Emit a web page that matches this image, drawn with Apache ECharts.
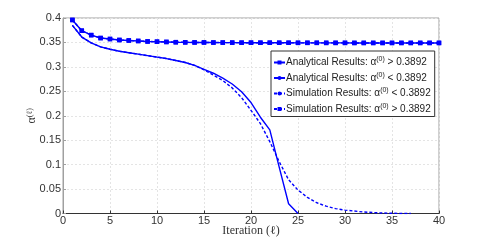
<!DOCTYPE html>
<html>
<head>
<meta charset="utf-8">
<script src="https://cdn.jsdelivr.net/npm/echarts@6/dist/echarts.min.js"></script>
<style>html,body{margin:0;padding:0;background:#fff}#c{width:485px;height:240px}</style>
</head>
<body>
<div id="c"></div>
<script>
var analyticalAbove = [[1,0.396],[2,0.374],[3,0.365],[4,0.359],[5,0.357],[6,0.355],[7,0.354],[8,0.353],[9,0.352],[10,0.3515],[11,0.351],[12,0.3505],[13,0.3502],[14,0.35],[15,0.35],[16,0.3498],[17,0.3497],[18,0.3496],[19,0.3495],[20,0.3495],[21,0.3494],[22,0.3494],[23,0.3493],[24,0.3493],[25,0.3492],[26,0.3492],[27,0.3492],[28,0.3491],[29,0.3491],[30,0.3491],[31,0.349],[32,0.349],[33,0.349],[34,0.349],[35,0.349],[36,0.349],[37,0.349],[38,0.349],[39,0.349],[40,0.349]];
var analyticalBelow = [[1,0.385],[2,0.361],[3,0.349],[4,0.341],[5,0.336],[6,0.332],[7,0.329],[8,0.326],[9,0.323],[10,0.320],[11,0.317],[12,0.313],[13,0.309],[14,0.303],[15,0.295],[16,0.287],[17,0.277],[18,0.265],[19,0.249],[20,0.227],[21,0.197],[22,0.171],[23,0.095],[24,0.02],[25,0]];
var simulationBelow = [[1,0.385],[2,0.361],[3,0.349],[4,0.341],[5,0.336],[6,0.332],[7,0.329],[8,0.326],[9,0.323],[10,0.320],[11,0.317],[12,0.313],[13,0.309],[14,0.303],[15,0.294],[16,0.283],[17,0.272],[18,0.257],[19,0.237],[20,0.211],[21,0.184],[22,0.147],[23,0.106],[24,0.069],[25,0.048],[26,0.033],[27,0.022],[28,0.015],[29,0.010],[30,0.007],[31,0.005],[32,0.003],[33,0.002],[34,0.001],[35,0.0005],[36,0],[37,0]];
var simulationAbove = [[1,0.396],[2,0.374],[3,0.365],[4,0.359],[5,0.357],[6,0.355],[7,0.354],[8,0.353],[9,0.352],[10,0.3515],[11,0.351],[12,0.3505],[13,0.3502],[14,0.35],[15,0.35],[16,0.3498],[17,0.3497],[18,0.3496],[19,0.3495],[20,0.3495],[21,0.3494],[22,0.3494],[23,0.3493],[24,0.3493],[25,0.3492],[26,0.3492],[27,0.3492],[28,0.3491],[29,0.3491],[30,0.3491],[31,0.349],[32,0.349],[33,0.349],[34,0.349],[35,0.349],[36,0.349],[37,0.349],[38,0.349],[39,0.349],[40,0.349]];
var seriesNames = ['Analytical Results: α{s|(0)} > 0.3892','Analytical Results: α{s|(0)} < 0.3892','Simulation Results: α{s|(0)} < 0.3892','Simulation Results: α{s|(0)} > 0.3892'];

var chart = echarts.init(document.getElementById('c'), null, {renderer:'canvas'});
var blue = '#0000ff';
var sansFont = 'Liberation Sans';
chart.setOption({
  animation: false,
  backgroundColor: '#fff',
  grid: {left: 63, right: 46, top: 18, bottom: 26.5, show: true, borderColor: '#a0a0a0', borderWidth: 1, containLabel: false, outerBoundsMode: 'none'},
  xAxis: {
    type: 'value', min: 0, max: 40, interval: 5,
    name: 'Iteration (ℓ)', nameLocation: 'middle', nameGap: 11, nameMoveOverlap: false,
    nameTextStyle: {fontFamily: 'Liberation Serif', fontSize: 12, color: '#333'},
    axisLine: {show: true, lineStyle: {color: '#333', width: 1}},
    axisTick: {show: true, inside: true, length: 3, lineStyle: {color: '#333'}},
    axisLabel: {fontFamily: sansFont, fontSize: 11, color: '#333', margin: 2},
    splitLine: {show: true, lineStyle: {color: '#e4e4e4', type: [2,2]}}
  },
  yAxis: {
    type: 'value', min: 0, max: 0.4, interval: 0.05,
    name: '{a|α}{s|(ℓ)}', nameLocation: 'middle', nameGap: 25, nameRotate: 90, nameMoveOverlap: false,
    nameTextStyle: {rich: {a: {fontFamily: 'Liberation Serif', fontSize: 12, color: '#333'}, s: {fontFamily: 'Liberation Serif', fontSize: 8, color: '#333', verticalAlign: 'top'}}},
    axisLine: {show: true, lineStyle: {color: '#a0a0a0', width: 1}},
    axisTick: {show: true, inside: true, length: 3, lineStyle: {color: '#a0a0a0'}},
    axisLabel: {fontFamily: sansFont, fontSize: 11, color: '#333', margin: 2},
    splitLine: {show: true, lineStyle: {color: '#e4e4e4', type: [2,2]}}
  },
  legend: {
    orient: 'vertical', left: 271, top: 51,
    backgroundColor: '#fff', borderColor: '#333', borderWidth: 1, borderRadius: 0,
    padding: [5, 4, 1, 2], itemGap: 2.5, itemWidth: 11, itemHeight: 5,
    textStyle: {fontFamily: sansFont, fontSize: 10, color: '#222', lineHeight: 13, padding: [0,0,0,-4],
      rich: {s: {fontSize: 7, fontFamily: sansFont, color: '#222', verticalAlign: 'top', lineHeight: 13}}},
    data: seriesNames
  },
  series: [
    {name: seriesNames[0], type: 'line', data: analyticalAbove, symbol: 'rect', symbolSize: 4.5, showSymbol: true,
     lineStyle: {color: blue, width: 1.4}, itemStyle: {color: blue}, z: 3},
    {name: seriesNames[1], type: 'line', data: analyticalBelow, symbol: 'none',
     lineStyle: {color: blue, width: 1.4}, itemStyle: {color: blue}, z: 2},
    {name: seriesNames[2], type: 'line', data: simulationBelow, symbol: 'none',
     lineStyle: {color: blue, width: 1.4, type: [3,2]}, itemStyle: {color: blue}, z: 2},
    {name: seriesNames[3], type: 'line', data: simulationAbove, symbol: 'rect', symbolSize: 4.5, showSymbol: true,
     lineStyle: {color: blue, width: 1.4, type: [3,2]}, itemStyle: {color: blue}, z: 4}
  ]
});
</script>
</body>
</html>
